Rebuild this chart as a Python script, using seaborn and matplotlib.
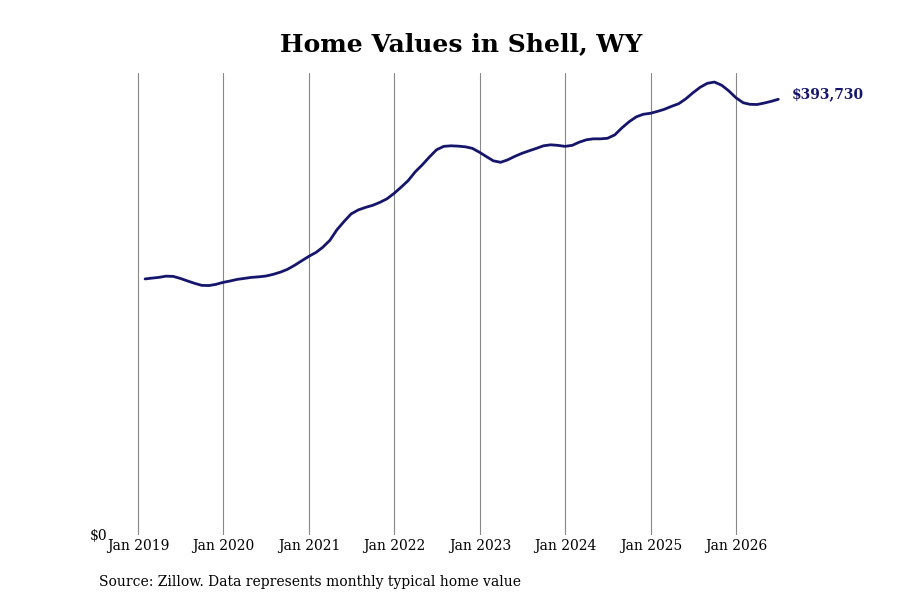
import pandas as pd
import matplotlib.pyplot as plt
import seaborn as sns

# Data: Zillow typical home value, Shell, WY (month-end, Jan 2019 - Jun 2026)
start_month = '2019-01-31'
home_values = [
    231400, 232100, 232800, 233900, 233700, 231900, 229600, 227400, 225600, 225400, 226500, 228300,
    229600, 231000, 231900, 232800, 233300, 234000, 235500, 237500, 240000, 243700, 247700, 251800,
    255400, 259900, 266300, 275800, 283400, 290200, 293800, 296100, 297900, 300600, 303800, 308800,
    314600, 320100, 328200, 334500, 341700, 348100, 351200, 351700, 351400, 350800, 349400, 345800,
    341700, 338100, 336800, 339000, 342200, 344900, 347200, 349400, 351700, 352600, 352100, 351200,
    352100, 354900, 357100, 358000, 358000, 358500, 361600, 368000, 373400, 377900, 380200, 381100,
    382900, 384700, 387400, 389700, 394200, 399600, 404600, 408200, 409300, 406400, 401400, 395100,
    390600, 389200, 389000, 390300, 391900, 393730,
]
tick_years = list(range(2019, 2027))

dates = pd.date_range(start_month, periods=len(home_values), freq='ME')
df = pd.DataFrame({'date': dates, 'value': home_values})

sns.set_style('white')
plt.rcParams['font.family'] = 'DejaVu Serif'
plt.rcParams['text.color'] = 'black'
plt.rcParams['xtick.color'] = 'black'
plt.rcParams['ytick.color'] = 'black'

line_color = '#15156b'

fig = plt.figure(figsize=(9, 6), dpi=100)
ax = fig.add_axes([110 / 900, 65 / 600, 680 / 900, 462 / 600])

sns.lineplot(data=df, x='date', y='value', ax=ax, color=line_color, linewidth=2)

ax.set_xlim(pd.Timestamp('2018-09-03'), pd.Timestamp('2026-08-19'))
ax.set_ylim(0, max(home_values) * 1.02)

ticks = [pd.Timestamp(f'{y}-01-01') for y in tick_years]
ax.set_xticks(ticks)
ax.set_xticklabels([f'Jan {y}' for y in tick_years], fontsize=10)
ax.set_yticks([0])
ax.set_yticklabels(['$0'], fontsize=10)
ax.tick_params(axis='x', length=0, pad=3)
ax.tick_params(axis='y', length=0, pad=2)

ax.grid(axis='x', color='#888888', linewidth=0.8)
ax.grid(axis='y', visible=False)
for side in ['top', 'right', 'left', 'bottom']:
    ax.spines[side].set_visible(False)
ax.set_xlabel('')
ax.set_ylabel('')

# Last value label
ax.annotate(f'${home_values[-1]:,}', xy=(df['date'].iloc[-1], home_values[-1]),
            xytext=(10, 4), textcoords='offset points', ha='left', va='center',
            fontsize=10, fontweight='bold', color=line_color)

fig.text(461 / 900, 1 - 44 / 600, 'Home Values in Shell, WY', ha='center', va='center',
         fontsize=18, fontweight='bold')
fig.text(99 / 900, 1 - 582 / 600, 'Source: Zillow. Data represents monthly typical home value',
         ha='left', va='center', fontsize=10)

plt.savefig('out.png', dpi=100)
plt.close()
